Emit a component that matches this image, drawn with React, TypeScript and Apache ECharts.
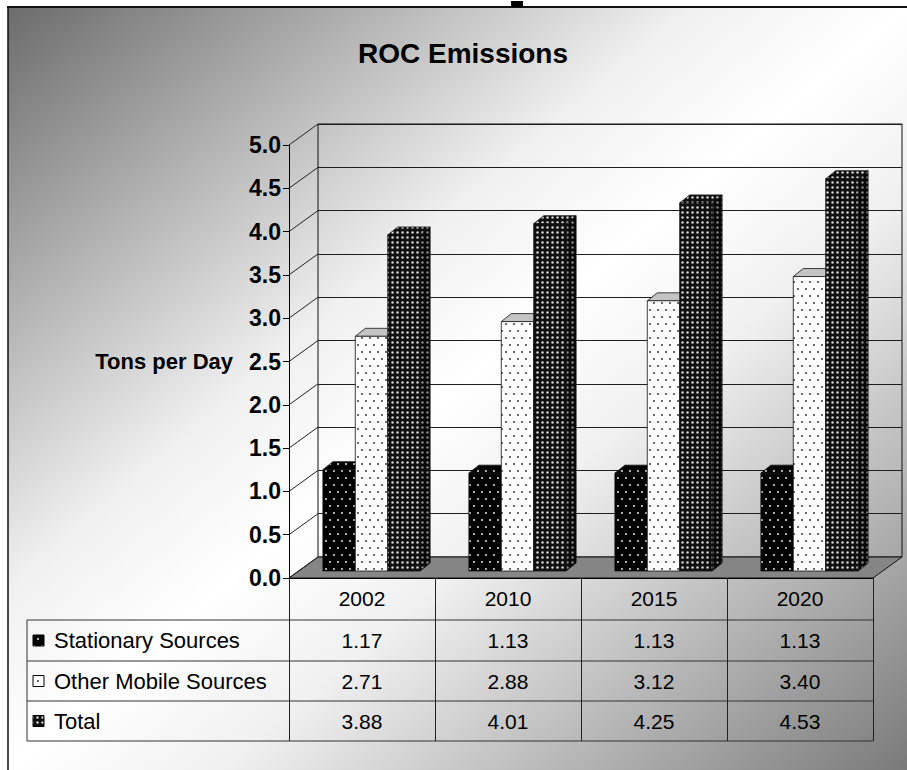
import React, { useEffect, useRef } from 'react';
import * as echarts from 'echarts';

const years = ['2002', '2010', '2015', '2020'];
const seriesNames = ['Stationary Sources', 'Other Mobile Sources', 'Total'];
const stationary = [1.17, 1.13, 1.13, 1.13];
const otherMobile = [2.71, 2.88, 3.12, 3.4];
const total = [3.88, 4.01, 4.25, 4.53];
const yTicks = [0, 0.5, 1, 1.5, 2, 2.5, 3, 3.5, 4, 4.5, 5];
const chartTitle = 'ROC Emissions';
const yAxisName = 'Tons per Day';

const FONT = '"Liberation Sans", Arial, Helvetica, sans-serif';
// 3D geometry (styles/positions)
const WALL_DX = 29;
const WALL_DY = -21;
const BAR_DX = 9.5;
const BAR_DY = -7;
const BAR_DEPTH_X = 10;
const BAR_DEPTH_Y = -8;
const BAR_RATIO = 0.222;
const TABLE_LEFT = 27;
const ROW_LINES = [620, 661, 701, 741];
const ROW_CENTERS = [640.5, 681, 721];

function makePattern(w: number, h: number, bg: string, dot: string, dots: number[][], r: number) {
  const c = document.createElement('canvas');
  c.width = w;
  c.height = h;
  const ctx = c.getContext('2d')!;
  ctx.fillStyle = bg;
  ctx.fillRect(0, 0, w, h);
  ctx.fillStyle = dot;
  dots.forEach(([x, y]) => {
    ctx.beginPath();
    ctx.arc(x, y, r, 0, Math.PI * 2);
    ctx.fill();
  });
  return { image: c.toDataURL(), repeat: 'repeat', imageWidth: w, imageHeight: h } as any;
}

export default function App() {
  const ref = useRef<HTMLDivElement>(null);

  useEffect(() => {
    if (!ref.current) return;
    const chart = echarts.init(ref.current, null, { renderer: 'svg' });

    const sparse = [[2, 2], [10, 2], [6, 9], [14, 9]];
    const patS = makePattern(16, 14, '#000000', '#e6e6e6', sparse, 1);
    const patM = makePattern(16, 14, '#ffffff', '#222222', sparse, 0.9);
    const patT = makePattern(5, 5, '#101010', '#d4d4d4', [[2.5, 2.5]], 1.25);
    const patTSide = makePattern(5, 5, '#080808', '#8a8a8a', [[2.5, 2.5]], 1.2);
    const patSSide = makePattern(16, 14, '#000000', '#999999', sparse, 1);
    const fronts = [patS, patM, patT];
    const tops = [patS, '#c4c4c4', patT];
    const sides = [patSSide, '#bdbdbd', patTSide];
    const values = [stationary, otherMobile, total];

    const barSeries = values.map((arr, idx) => ({
      type: 'custom',
      name: seriesNames[idx],
      xAxisIndex: 0,
      yAxisIndex: 0,
      z: 3,
      silent: true,
      data: arr.map((v, i) => [i, v]),
      encode: { x: 0, y: 1 },
      renderItem: (params: any, api: any) => {
        const cat = api.value(0);
        const val = api.value(1);
        const base = api.coord([cat, 0]);
        const tp = api.coord([cat, val]);
        const band = api.size([1, 0])[0];
        const bw = band * BAR_RATIO;
        const x0 = base[0] - 1.5 * bw + idx * bw + BAR_DX;
        const x1 = x0 + bw;
        const yb = base[1] + BAR_DY;
        const yt = tp[1] + BAR_DY;
        const stroke = { stroke: '#111', lineWidth: 0.8 };
        return {
          type: 'group',
          children: [
            {
              type: 'polygon',
              shape: { points: [[x1, yt], [x1 + BAR_DEPTH_X, yt + BAR_DEPTH_Y], [x1 + BAR_DEPTH_X, yb + BAR_DEPTH_Y], [x1, yb]] },
              style: { fill: sides[idx], ...stroke },
            },
            {
              type: 'polygon',
              shape: { points: [[x0, yt], [x1, yt], [x1 + BAR_DEPTH_X, yt + BAR_DEPTH_Y], [x0 + BAR_DEPTH_X, yt + BAR_DEPTH_Y]] },
              style: { fill: tops[idx], ...stroke },
            },
            {
              type: 'rect',
              shape: { x: x0, y: yt, width: bw, height: yb - yt },
              style: { fill: fronts[idx], ...stroke },
            },
          ],
        };
      },
    }));

    const floorSeries = {
      type: 'custom',
      xAxisIndex: 0,
      yAxisIndex: 0,
      z: 1,
      silent: true,
      data: [[0, 0]],
      encode: { x: 0, y: 1 },
      renderItem: (params: any, api: any) => {
        const cs = params.coordSys;
        const y = api.coord([0, 0])[1];
        return {
          type: 'polygon',
          shape: {
            points: [
              [cs.x, y],
              [cs.x + cs.width, y],
              [cs.x + cs.width + WALL_DX, y + WALL_DY],
              [cs.x + WALL_DX, y + WALL_DY],
            ],
          },
          style: { fill: '#858585', stroke: '#111', lineWidth: 1 },
        };
      },
    };

    const sideWallSeries = {
      type: 'custom',
      xAxisIndex: 0,
      yAxisIndex: 0,
      z: 2,
      silent: true,
      data: yTicks.map((v) => [0, v]),
      encode: { x: 0, y: 1 },
      renderItem: (params: any, api: any) => {
        const cs = params.coordSys;
        const y = api.coord([0, api.value(1)])[1];
        return {
          type: 'line',
          shape: { x1: cs.x, y1: y, x2: cs.x + WALL_DX, y2: y + WALL_DY },
          style: { stroke: '#222', lineWidth: 1 },
        };
      },
    };

    const tableSeries = {
      type: 'custom',
      xAxisIndex: 0,
      yAxisIndex: 0,
      z: 4,
      silent: true,
      data: years.map((_, i) => [i, 0, stationary[i], otherMobile[i], total[i]]),
      encode: { x: 0, y: 1 },
      renderItem: (params: any, api: any) => {
        const x = api.coord([api.value(0), 0])[0];
        return {
          type: 'group',
          children: [2, 3, 4].map((d, r) => ({
            type: 'text',
            x,
            y: ROW_CENTERS[r],
            style: {
              text: Number(api.value(d)).toFixed(2),
              fill: '#000',
              fontSize: 21,
              fontFamily: FONT,
              align: 'center',
              verticalAlign: 'middle',
              textAlign: 'center',
              textVerticalAlign: 'middle',
            },
          })),
        };
      },
    };

    const graphics: any[] = [
      {
        type: 'rect',
        z: -100,
        shape: { x: 8, y: 7, width: 899, height: 763 },
        style: {
          fill: new echarts.graphic.LinearGradient(0, 0, 1, 1, [
            { offset: 0, color: '#6c6c6c' },
            { offset: 0.38, color: '#f0f0f0' },
            { offset: 0.5, color: '#ffffff' },
            { offset: 0.62, color: '#f0f0f0' },
            { offset: 1, color: '#7a7a7a' },
          ]),
        },
      },
      { type: 'line', z: 10, shape: { x1: 7, y1: 7, x2: 907, y2: 7 }, style: { stroke: '#111', lineWidth: 2 } },
      { type: 'line', z: 10, shape: { x1: 8, y1: 7, x2: 8, y2: 770 }, style: { stroke: '#111', lineWidth: 1.5 } },
      { type: 'rect', z: 10, shape: { x: 511, y: 1, width: 12, height: 6 }, style: { fill: '#000' } },
      {
        type: 'text',
        z: 10,
        x: 463,
        y: 53,
        style: {
          text: chartTitle,
          fill: '#000',
          fontSize: 28,
          fontWeight: 'bold',
          fontFamily: FONT,
          align: 'center',
          verticalAlign: 'middle',
          textAlign: 'center',
          textVerticalAlign: 'middle',
        },
      },
    ];
    ROW_LINES.forEach((y) => {
      graphics.push({ type: 'line', z: 5, shape: { x1: TABLE_LEFT, y1: y, x2: 873, y2: y }, style: { stroke: '#333', lineWidth: 1 } });
    });
    graphics.push({
      type: 'line',
      z: 5,
      shape: { x1: TABLE_LEFT, y1: ROW_LINES[0], x2: TABLE_LEFT, y2: ROW_LINES[ROW_LINES.length - 1] },
      style: { stroke: '#333', lineWidth: 1 },
    });
    seriesNames.forEach((name, r) => {
      const cy = ROW_CENTERS[r];
      graphics.push({
        type: 'rect',
        z: 5,
        shape: { x: 33, y: cy - 5.5, width: 11, height: 11 },
        style: { fill: fronts[r], stroke: '#000', lineWidth: 1 },
      });
      graphics.push({
        type: 'text',
        z: 5,
        x: 54,
        y: cy,
        style: {
          text: name,
          fill: '#000',
          fontSize: 22,
          fontFamily: FONT,
          align: 'left',
          verticalAlign: 'middle',
          textAlign: 'left',
          textVerticalAlign: 'middle',
        },
      });
    });

    const option: any = {
      animation: false,
      graphic: { elements: graphics },
      grid: [
        { left: 289, top: 145, width: 584, height: 433, show: false },
        {
          left: 289 + WALL_DX,
          top: 145 + WALL_DY,
          width: 584,
          height: 433,
          show: true,
          borderColor: '#111',
          borderWidth: 1,
          backgroundColor: 'transparent',
        },
      ],
      xAxis: [
        {
          type: 'category',
          gridIndex: 0,
          data: years,
          axisLine: { show: true, lineStyle: { color: '#000', width: 1 } },
          axisTick: { show: true, length: 163, interval: 0, lineStyle: { color: '#222', width: 1 } },
          axisLabel: { color: '#000', fontSize: 21, fontFamily: FONT, margin: 10, interval: 0 },
          splitLine: { show: false },
          z: 5,
        },
        { type: 'category', gridIndex: 1, data: years, show: false },
      ],
      yAxis: [
        {
          type: 'value',
          gridIndex: 0,
          min: 0,
          max: 5,
          interval: 0.5,
          axisLine: { show: true, lineStyle: { color: '#000', width: 1 } },
          axisTick: { show: true, length: 6, lineStyle: { color: '#000' } },
          axisLabel: {
            formatter: (v: number) => v.toFixed(1),
            color: '#000',
            fontSize: 23,
            fontWeight: 'bold',
            fontFamily: FONT,
            margin: 8,
          },
          splitLine: { show: false },
          name: yAxisName,
          nameLocation: 'middle',
          nameRotate: 0,
          nameGap: 56,
          nameTextStyle: { color: '#000', fontSize: 22, fontWeight: 'bold', fontFamily: FONT },
          z: 5,
        },
        {
          type: 'value',
          gridIndex: 1,
          min: 0,
          max: 5,
          interval: 0.5,
          axisLine: { show: false },
          axisTick: { show: false },
          axisLabel: { show: false },
          splitLine: { show: true, lineStyle: { color: '#1e1e1e', width: 1 } },
        },
      ],
      series: [floorSeries, sideWallSeries, ...barSeries, tableSeries],
    };

    chart.setOption(option);
    return () => chart.dispose();
  }, []);

  return <div ref={ref} style={{ position: 'absolute', left: 0, top: 0, width: 907, height: 770 }} />;
}
